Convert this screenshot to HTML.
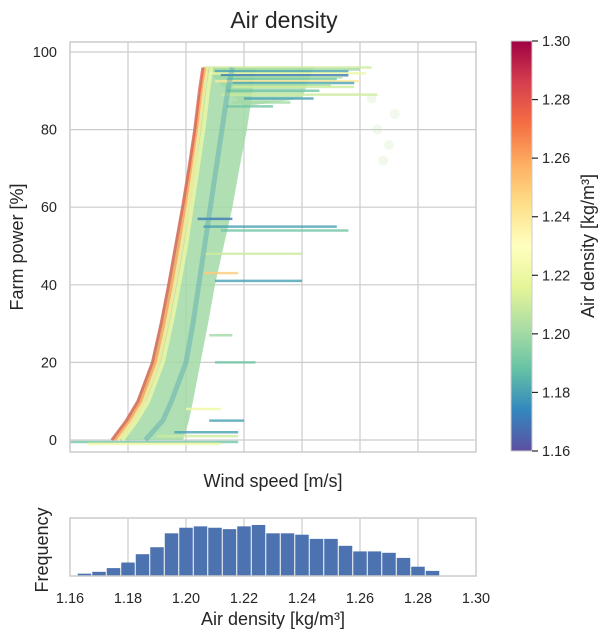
<!DOCTYPE html>
<html><head><meta charset="utf-8"><style>
body{margin:0;background:#fff;width:604px;height:636px;overflow:hidden;font-family:"Liberation Sans",sans-serif;}
svg text{font-family:"Liberation Sans",sans-serif;fill:#262626;}
</style></head><body>
<svg id="chart" width="604" height="636">
<defs>
<linearGradient id="cmap" x1="0" y1="1" x2="0" y2="0">
<stop offset="0" stop-color="#5e4fa2"/><stop offset="0.1" stop-color="#3288bd"/><stop offset="0.2" stop-color="#66c2a5"/><stop offset="0.3" stop-color="#abdda4"/><stop offset="0.4" stop-color="#e6f598"/><stop offset="0.5" stop-color="#ffffbf"/><stop offset="0.6" stop-color="#fee08b"/><stop offset="0.7" stop-color="#fdae61"/><stop offset="0.8" stop-color="#f46d43"/><stop offset="0.9" stop-color="#d53e4f"/><stop offset="1" stop-color="#9e0142"/>
</linearGradient>
<clipPath id="clipMain"><rect x="70" y="42" width="406" height="410"/></clipPath>
</defs>
<text x="284" y="28" font-size="23" text-anchor="middle">Air density</text>
<g id="main"></g>
<g id="cbar"></g>
<g id="hist"></g>
</svg>
<script>
// ---- data ----
const powerLevels = [0,5,10,20,30,40,50,60,70,80,90,96];
const bandLeft  = [0.7,0.95,1.15,1.4,1.55,1.68,1.8,1.92,2.03,2.13,2.22,2.28];
const bandRight = [1.95,2.05,2.12,2.25,2.38,2.5,2.65,2.8,2.92,3.05,3.15,3.2];
const bandDensity = 1.20;
const plateauWind = [2.3,4.2,4.0,3.0];
const plateauPower = [96,96,88,86];
const classDensity = [1.18,1.22,1.24,1.26,1.28];
const classWind0 = [1.3,1.6,1.75,2.0,2.12,2.22,2.32,2.42,2.52,2.62,2.72,2.8];
const classWind1 = [0.9,1.15,1.35,1.6,1.75,1.88,2.0,2.1,2.2,2.3,2.38,2.44];
const classWind2 = [0.82,1.07,1.27,1.52,1.67,1.8,1.92,2.03,2.13,2.22,2.3,2.36];
const classWind3 = [0.77,1.02,1.22,1.47,1.62,1.75,1.87,1.98,2.08,2.18,2.26,2.32];
const classWind4 = [0.72,0.97,1.17,1.42,1.57,1.7,1.82,1.94,2.05,2.15,2.23,2.29];
const streakPower = [96,95.5,95,94.5,94,93.5,93,92.5,92,91.5,91,90,89,88,87,86,55,54,57,48,43,41,27,20,8,5,2,1,-0.5,-1];
const streakStart = [2.3,2.4,2.5,2.4,2.6,2.5,2.7,2.5,2.8,2.6,2.8,2.7,2.6,3.0,2.8,2.7,2.3,2.6,2.2,2.3,2.3,2.5,2.4,2.5,2.0,2.4,1.8,1.5,0,0.3];
const streakEnd   = [5.2,5.0,4.8,5.1,4.8,4.7,4.6,5.0,4.9,4.5,4.9,4.3,5.3,4.2,3.8,3.5,4.6,4.8,2.8,4.0,2.9,4.0,2.8,3.2,2.6,3.0,2.9,2.9,2.9,2.6];
const streakDens  = [1.21,1.20,1.18,1.22,1.17,1.20,1.19,1.24,1.18,1.20,1.21,1.19,1.21,1.18,1.20,1.19,1.18,1.19,1.17,1.21,1.25,1.18,1.20,1.19,1.22,1.18,1.18,1.21,1.19,1.22];
const cloudWind = [5.4,5.5,5.3,5.6,5.2];
const cloudPower = [72,76,80,84,88];
const yTicks = [0,20,40,60,80,100];
const xGrid = [1,2,3,4,5,6];
const cbTicks = [1.16,1.18,1.20,1.22,1.24,1.26,1.28,1.30];
const histStart = [1.1625,1.1675,1.1725,1.1775,1.1825,1.1875,1.1925,1.1975,1.2025,1.2075,1.2125,1.2175,1.2225,1.2275,1.2325,1.2375,1.2425,1.2475,1.2525,1.2575,1.2625,1.2675,1.2725,1.2775,1.2825];
const histCount = [5,9,17,29,47,62,92,104,107,104,101,107,110,92,92,89,80,80,65,53,53,50,39,20,11];
const histTicks = [1.16,1.18,1.20,1.22,1.24,1.26,1.28,1.30];
// ---- scales ----
const X0=70,X1=476,Y0=452,Y1=42;
const xs = v => 70 + v*58;
const ys = p => 440 - p*3.88;
const hx = d => 70 + (d-1.16)/0.14*406;
const hy = c => 576 - c/125*58;
const cy = d => 451 - (d-1.16)/0.14*410;
const stops=[[0,'#5e4fa2'],[0.1,'#3288bd'],[0.2,'#66c2a5'],[0.3,'#abdda4'],[0.4,'#e6f598'],[0.5,'#ffffbf'],[0.6,'#fee08b'],[0.7,'#fdae61'],[0.8,'#f46d43'],[0.9,'#d53e4f'],[1,'#9e0142']];
function hex(h){return [1,3,5].map(i=>parseInt(h.substr(i,2),16));}
function cmap(d){let t=Math.max(0,Math.min(1,(d-1.16)/0.14));for(let i=1;i<stops.length;i++){if(t<=stops[i][0]){const a=hex(stops[i-1][1]),b=hex(stops[i][1]);const f=(t-stops[i-1][0])/(stops[i][0]-stops[i-1][0]);return 'rgb('+a.map((v,k)=>Math.round(v+(b[k]-v)*f)).join(',')+')';}}return stops[10][1];}
const NS='http://www.w3.org/2000/svg';
function mk(tag,attrs,parent){const e=document.createElementNS(NS,tag);for(const k in attrs)e.setAttribute(k,attrs[k]);parent.appendChild(e);return e;}
// ---- main axes ----
const main=document.getElementById('main');
xGrid.forEach(v=>{const l=mk('line',{x1:xs(v),x2:xs(v),y1:Y1,y2:Y0,stroke:'#cccccc','stroke-width':1.2},main);

});
yTicks.forEach(v=>{const l=mk('line',{x1:X0,x2:X1,y1:ys(v),y2:ys(v),stroke:'#cccccc','stroke-width':1.2},main);


const t=mk('text',{x:57,y:ys(v)+5,'font-size':14.5,'text-anchor':'end'},main);t.textContent=v;

});
const marks=mk('g',{'clip-path':'url(#clipMain)'},main);
cloudWind.forEach((w,i)=>{const c=mk('circle',{cx:xs(w),cy:ys(cloudPower[i]),r:5,fill:cmap(1.205),'fill-opacity':0.2},marks);

});
const bandPts=bandLeft.map((w,j)=>xs(w)+','+ys(powerLevels[j])).concat(bandRight.map((w,j)=>xs(w)+','+ys(powerLevels[j])).reverse()).join(' ');
const band=mk('polygon',{points:bandPts,fill:cmap(bandDensity),'fill-opacity':0.85},marks);


const platPts=plateauWind.map((w,j)=>xs(w)+','+ys(plateauPower[j])).join(' ');
const plat=mk('polygon',{points:platPts,fill:cmap(bandDensity),'fill-opacity':0.7},marks);


streakPower.forEach((p,i)=>{const l=mk('line',{x1:xs(streakStart[i]),x2:xs(streakEnd[i]),y1:ys(p),y2:ys(p),stroke:cmap(streakDens[i]),'stroke-width':2.5,'stroke-opacity':0.8},marks);

});
const winds=[classWind0,classWind1,classWind2,classWind3,classWind4];
const widths=[5,4,4,3,3];
const ops=[0.4,0.8,0.8,0.8,0.7];
winds.forEach((arr,i)=>{const pts=arr.map((w,j)=>xs(w)+','+ys(powerLevels[j])).join(' ');
const p=mk('polyline',{points:pts,fill:'none',stroke:cmap(classDensity[i]),'stroke-width':widths[i],'stroke-opacity':ops[i],'stroke-linejoin':'round'},marks);

});
mk('rect',{x:X0,y:Y1,width:X1-X0,height:Y0-Y1,fill:'none',stroke:'#cccccc','stroke-width':1.5},main);
const xl=mk('text',{x:273,y:487,'font-size':18,'text-anchor':'middle'},main);xl.textContent='Wind speed [m/s]';


const yl=mk('text',{x:0,y:0,'font-size':18,'text-anchor':'middle',transform:'translate(23,247) rotate(-90)'},main);yl.textContent='Farm power [%]';


// ---- colorbar ----
const cb=document.getElementById('cbar');
const cr=mk('rect',{x:511,y:41,width:21,height:410,fill:'url(#cmap)',stroke:'#cccccc','stroke-width':1},cb);


cbTicks.forEach(v=>{mk('line',{x1:532,x2:538,y1:cy(v),y2:cy(v),stroke:'#262626','stroke-width':1.2},cb);
const t=mk('text',{x:542,y:cy(v)+5,'font-size':14.5},cb);t.textContent=v.toFixed(2);

});
const cl=mk('text',{x:0,y:0,'font-size':18,'text-anchor':'middle',transform:'translate(594,246) rotate(-90)'},cb);cl.textContent='Air density [kg/m³]';


// ---- histogram ----
const h=document.getElementById('hist');
histTicks.slice(1,-1).forEach(v=>{const l=mk('line',{x1:hx(v),x2:hx(v),y1:518,y2:576,stroke:'#cccccc','stroke-width':1.2},h);

});
histCount.forEach((c,i)=>{const x=hx(histStart[i]),w=hx(histStart[i]+0.005)-x;
const r=mk('rect',{x:x+0.5,y:hy(c),width:w-1,height:576-hy(c),fill:'#4c72b0'},h);

});
mk('rect',{x:70,y:518,width:406,height:58,fill:'none',stroke:'#cccccc','stroke-width':1.5},h);
histTicks.forEach(v=>{const t=mk('text',{x:hx(v),y:603,'font-size':14.5,'text-anchor':'middle'},h);t.textContent=v.toFixed(2);

});
const hxl=mk('text',{x:273,y:625,'font-size':18,'text-anchor':'middle'},h);hxl.textContent='Air density [kg/m³]';


const hyl=mk('text',{x:0,y:0,'font-size':18,'text-anchor':'middle',transform:'translate(48,550) rotate(-90)'},h);hyl.textContent='Frequency';


</script>
</body></html>
